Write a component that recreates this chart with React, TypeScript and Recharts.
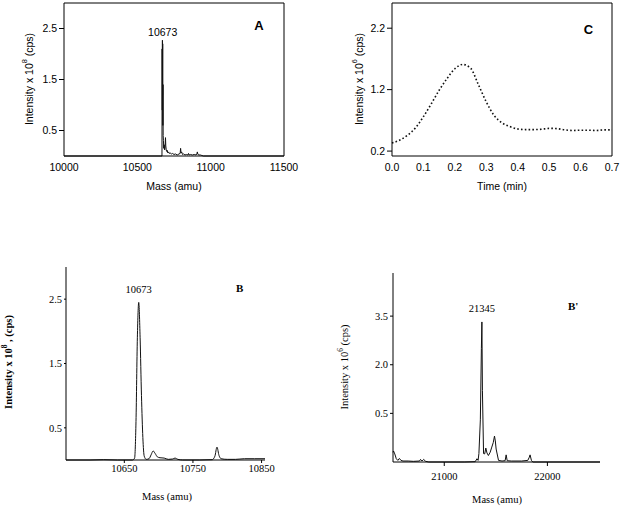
// Four-panel mass spectrum / ion trace figure (A, C, B, B')

import React from 'react';
import { LineChart, Line, XAxis, YAxis, ReferenceLine, ReferenceDot } from 'recharts';

const SANS = '"Liberation Sans", Arial, sans-serif';
const SERIF = '"Liberation Serif", "Times New Roman", serif';

// Panel A - deconvoluted spectrum, wide range
const massA = [10000, 10660, 10668, 10669, 10670, 10671, 10672, 10673, 10674, 10675, 10676, 10678, 10680, 10683, 10686, 10689, 10692, 10694, 10697, 10700, 10704, 10708, 10713, 10718, 10724, 10732, 10740, 10750, 10760, 10772, 10784, 10792, 10795, 10798, 10802, 10808, 10815, 10825, 10835, 10845, 10849, 10853, 10862, 10875, 10888, 10900, 10906, 10909, 10913, 10920, 10930, 10940, 10950, 11500];
const intensityA = [0, 0, 0, 2.1, 0.9, 2.27, 1.2, 2.2, 0.6, 1.4, 0.4, 0.3, 0.15, 0.22, 0.12, 0.18, 0.36, 0.2, 0.12, 0.09, 0.11, 0.06, 0.08, 0.05, 0.06, 0.04, 0.05, 0.03, 0.04, 0.02, 0.04, 0.05, 0.15, 0.06, 0.08, 0.03, 0.04, 0.02, 0.03, 0.02, 0.05, 0.02, 0.03, 0.02, 0.03, 0.02, 0.04, 0.08, 0.03, 0.02, 0.02, 0.01, 0, 0];
const ticksAX = [10000, 10500, 11000, 11500];
const ticksAY = [0.5, 1.5, 2.5];

// Panel C - ion trace over time
const timeC = [0, 0.025, 0.05, 0.075, 0.1, 0.125, 0.15, 0.175, 0.2, 0.225, 0.25, 0.275, 0.3, 0.325, 0.35, 0.375, 0.4, 0.425, 0.45, 0.475, 0.5, 0.525, 0.55, 0.575, 0.6, 0.625, 0.65, 0.675, 0.7];
const intensityC = [0.33, 0.38, 0.46, 0.58, 0.76, 0.97, 1.19, 1.38, 1.54, 1.61, 1.55, 1.28, 1.0, 0.78, 0.66, 0.6, 0.56, 0.55, 0.55, 0.555, 0.57, 0.565, 0.545, 0.535, 0.54, 0.54, 0.535, 0.545, 0.545];
const ticksCX = [0, 0.1, 0.2, 0.3, 0.4, 0.5, 0.6, 0.7];
const ticksCY = [0.2, 1.2, 2.2];

// Panel B - zoom on the main peak
const massB = [10565, 10600, 10620, 10640, 10662, 10665, 10667, 10669, 10671, 10673, 10675, 10677, 10679, 10682, 10686, 10689, 10692, 10695, 10698, 10702, 10708, 10714, 10720, 10724, 10728, 10735, 10760, 10778, 10782, 10785, 10788, 10791, 10800, 10812, 10825, 10840, 10855];
const intensityB = [0, 0, 0.005, 0, 0, 0.03, 0.6, 1.9, 2.45, 1.9, 1.0, 0.35, 0.06, 0.01, 0.02, 0.08, 0.14, 0.1, 0.05, 0.035, 0.03, 0.01, 0.015, 0.03, 0.01, 0, 0, 0.005, 0.06, 0.2, 0.07, 0.02, 0.01, 0.01, 0.02, 0.02, 0.02];
const ticksBX = [10650, 10750, 10850];
const ticksBY = [0.5, 1.5, 2.5];

// Panel B' - dimer region (axis values as printed)
const massB2 = [20503, 20508, 20520, 20535, 20550, 20565, 20580, 20600, 20650, 20700, 20760, 20770, 20785, 20800, 20820, 20850, 21000, 21200, 21300, 21317, 21328, 21336, 21350, 21360, 21365, 21370, 21381, 21392, 21403, 21414, 21428, 21445, 21461, 21475, 21487, 21495, 21503, 21526, 21560, 21590, 21600, 21610, 21650, 21750, 21810, 21825, 21832, 21845, 21858, 22000, 22510];
const intensityB2 = [-0.7, -0.66, -0.75, -0.9, -0.95, -0.89, -0.95, -0.97, -0.97, -0.98, -0.97, -0.92, -0.97, -0.92, -0.98, -1, -1, -1, -0.99, -0.9, -0.95, -0.74, 0.3, 2.5, 3.32, 1.2, -0.74, -0.75, -0.57, -0.72, -0.8, -0.7, -0.54, -0.4, -0.2, -0.35, -0.6, -0.95, -0.97, -0.96, -0.78, -0.96, -0.97, -0.97, -0.95, -0.85, -0.78, -0.95, -1, -1, -1];
const ticksB2X = [21000, 22000];
const ticksB2Y = [0.5, 2.0, 3.5];

const rows = (xs: number[], ys: number[]) => xs.map((x, i) => ({ x, y: ys[i] }));

const yTitle = (cx: number, cy: number, exp: string, after: string, font: string, size: number, weight = 'normal') => () => (
  <text
    x={cx}
    y={cy}
    transform={`rotate(-90 ${cx} ${cy})`}
    textAnchor="middle"
    dominantBaseline="middle"
    style={{ fontFamily: font, fontSize: size, fontWeight: weight }}
    fill="#000"
  >
    Intensity x 10<tspan dy={-size * 0.45} fontSize={size * 0.7}>{exp}</tspan>
    <tspan dy={size * 0.45}>{after}</tspan>
  </text>
);

const xTitle = (cx: number, cy: number, text: string, font: string, size: number) => () => (
  <text x={cx} y={cy} textAnchor="middle" dominantBaseline="middle" style={{ fontFamily: font, fontSize: size }} fill="#000">
    {text}
  </text>
);

const axisLine = { stroke: '#000', strokeWidth: 1 };
const sansTick = { fill: '#000', fontSize: 10.5, fontFamily: SANS, style: { fontFamily: SANS } };
const serifTick = { fill: '#000', fontSize: 10.5, fontFamily: SERIF, style: { fontFamily: SERIF } };

export default function App() {
  return (
    <div style={{ position: 'absolute', left: 0, top: 0, width: 623, height: 512, background: '#fff' }}>
      {/* A */}
      <div style={{ position: 'absolute', left: 0, top: 0, fontFamily: SANS }}>
        <LineChart width={310} height={230} data={rows(massA, intensityA)} margin={{ top: 3, right: 26, bottom: 0, left: 0 }}>
          <XAxis
            dataKey="x"
            type="number"
            domain={[10000, 11500]}
            ticks={ticksAX}
            height={74}
            tickLine={false}
            tickSize={6}
            tickMargin={2}
            axisLine={axisLine}
            tick={sansTick}
            label={xTitle(174, 187, 'Mass (amu)', SANS, 10.5)}
          />
          <YAxis
            type="number"
            domain={[0, 3]}
            ticks={ticksAY}
            width={64}
            tickSize={5}
            tickMargin={2}
            tickLine={{ stroke: '#000' }}
            axisLine={axisLine}
            tick={sansTick}
            label={yTitle(30, 79, '8', ' (cps)', SANS, 10.5)}
          />
          <ReferenceLine y={3} stroke="#000" />
          <ReferenceLine x={11500} stroke="#000" />
          <Line dataKey="y" type="linear" stroke="#111" strokeWidth={1} dot={false} isAnimationActive={false} />
          <ReferenceDot x={10673} y={2.27} r={0} fill="none" stroke="none"
            label={{ value: '10673', position: 'top', offset: 4, fill: '#000', fontSize: 10.5, fontFamily: SANS }} />
          <ReferenceDot x={11330} y={2.57} r={0} fill="none" stroke="none"
            label={{ value: 'A', position: 'center', fill: '#000', fontSize: 13, fontWeight: 'bold', fontFamily: SANS }} />
        </LineChart>
      </div>

      {/* C */}
      <div style={{ position: 'absolute', left: 310, top: 0, fontFamily: SANS }}>
        <LineChart width={313} height={230} data={rows(timeC, intensityC)} margin={{ top: 3, right: 11, bottom: 0, left: 0 }}>
          <XAxis
            dataKey="x"
            type="number"
            domain={[0, 0.7]}
            ticks={ticksCX}
            tickFormatter={(v: number) => v.toFixed(1)}
            height={74}
            tickLine={false}
            tickSize={6}
            tickMargin={2}
            axisLine={axisLine}
            tick={sansTick}
            label={xTitle(192, 187, 'Time (min)', SANS, 10.5)}
          />
          <YAxis
            type="number"
            domain={[0.12, 2.61]}
            ticks={ticksCY}
            tickFormatter={(v: number) => v.toFixed(1)}
            width={82}
            tickSize={5}
            tickMargin={2}
            tickLine={{ stroke: '#000' }}
            axisLine={axisLine}
            tick={sansTick}
            label={yTitle(50, 79, '6', ' (cps)', SANS, 10.5)}
          />
          <ReferenceLine y={2.61} stroke="#000" />
          <ReferenceLine x={0.7} stroke="#000" />
          <Line dataKey="y" type="monotone" stroke="#111" strokeWidth={1.6} strokeDasharray="1.6 2.2" dot={false} isAnimationActive={false} />
          <ReferenceDot x={0.625} y={2.18} r={0} fill="none" stroke="none"
            label={{ value: 'C', position: 'center', fill: '#000', fontSize: 13, fontWeight: 'bold', fontFamily: SANS }} />
        </LineChart>
      </div>

      {/* B */}
      <div style={{ position: 'absolute', left: 0, top: 250, fontFamily: SERIF }}>
        <LineChart width={310} height={262} data={rows(massB, intensityB)} margin={{ top: 17, right: 45, bottom: 0, left: 0 }}>
          <XAxis
            dataKey="x"
            type="number"
            domain={[10565, 10855]}
            ticks={ticksBX}
            height={52}
            tickSize={3}
            tickMargin={2}
            tickLine={{ stroke: '#000' }}
            axisLine={axisLine}
            tick={serifTick}
            label={xTitle(167, 248, 'Mass (amu)', SERIF, 10.5)}
          />
          <YAxis
            type="number"
            domain={[0, 3]}
            ticks={ticksBY}
            width={66}
            tickSize={2}
            tickMargin={2}
            tickLine={{ stroke: '#000' }}
            axisLine={axisLine}
            tick={serifTick}
            label={yTitle(10, 112, '8', ' , (cps)', SERIF, 10.5, 'bold')}
          />
          <Line dataKey="y" type="monotone" stroke="#111" strokeWidth={1} dot={false} isAnimationActive={false} />
          <ReferenceDot x={10671} y={2.45} r={0} fill="none" stroke="none"
            label={{ value: '10673', position: 'top', offset: 9, fill: '#000', fontSize: 10.5, fontFamily: SERIF }} />
          <ReferenceDot x={10818} y={2.67} r={0} fill="none" stroke="none"
            label={{ value: 'B', position: 'center', fill: '#000', fontSize: 11, fontWeight: 'bold', fontFamily: SERIF }} />
        </LineChart>
      </div>

      {/* B' */}
      <div style={{ position: 'absolute', left: 310, top: 250, fontFamily: SERIF }}>
        <LineChart width={313} height={262} data={rows(massB2, intensityB2)} margin={{ top: 23, right: 23, bottom: 0, left: 0 }}>
          <XAxis
            dataKey="x"
            type="number"
            domain={[20503, 22510]}
            ticks={ticksB2X}
            height={50}
            tickSize={4}
            tickMargin={7}
            tickLine={{ stroke: '#000' }}
            axisLine={axisLine}
            tick={serifTick}
            label={xTitle(187, 251, 'Mass (amu)', SERIF, 10.5)}
          />
          <YAxis
            type="number"
            domain={[-1, 4.83]}
            ticks={ticksB2Y}
            tickFormatter={(v: number) => v.toFixed(1)}
            width={83}
            tickSize={3}
            tickMargin={2}
            tickLine={{ stroke: '#000' }}
            axisLine={axisLine}
            tick={serifTick}
            label={yTitle(36, 117, '6', '  (cps)', SERIF, 10.5)}
          />
          <Line dataKey="y" type="linear" stroke="#111" strokeWidth={1} dot={false} isAnimationActive={false} />
          <ReferenceDot x={21365} y={3.32} r={0} fill="none" stroke="none"
            label={{ value: '21345', position: 'top', offset: 10, fill: '#000', fontSize: 10.5, fontFamily: SERIF }} />
          <ReferenceDot x={22250} y={3.8} r={0} fill="none" stroke="none"
            label={{ value: "B'", position: 'center', fill: '#000', fontSize: 11, fontWeight: 'bold', fontFamily: SERIF }} />
        </LineChart>
      </div>
    </div>
  );
}
